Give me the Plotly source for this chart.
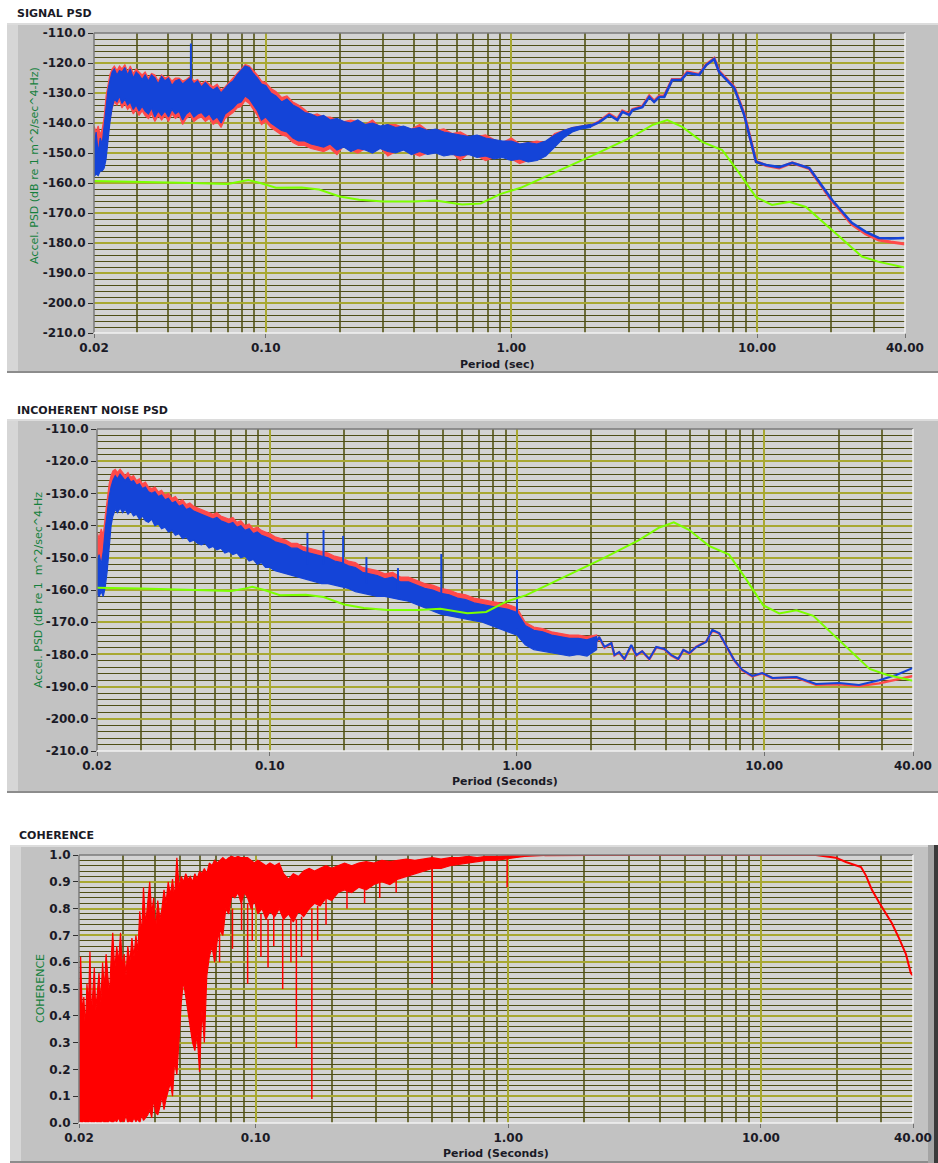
import math
import plotly.graph_objects as go

W, H = 938, 1163

# ======================= DATA =======================
# common period grid (s) for the noisy short-period part of both PSD panels
band_p = [0.0200, 0.0204, 0.0208, 0.0212, 0.0216, 0.0220, 0.0224, 0.0228, 0.0232, 0.0237,
          0.0242, 0.0248, 0.0254, 0.0260, 0.0267, 0.0274, 0.0281, 0.0289, 0.0297, 0.0305,
          0.0314, 0.0323, 0.0333, 0.0343, 0.0354, 0.0365, 0.0377, 0.0389, 0.0402, 0.0415,
          0.0429, 0.0444, 0.0459, 0.0475, 0.0492, 0.0510, 0.0528, 0.0548, 0.0568, 0.0589,
          0.0611, 0.0634, 0.0658, 0.0683, 0.0709, 0.0736, 0.0764, 0.0794, 0.0825, 0.0857,
          0.0890, 0.0925, 0.0961, 0.1000, 0.1050, 0.1100, 0.1160, 0.1220, 0.1290, 0.1360,
          0.1440, 0.1530, 0.1620, 0.1720, 0.1830, 0.1950, 0.2080, 0.2220, 0.2370, 0.2540,
          0.2720, 0.2920, 0.3140, 0.3380, 0.3640, 0.3920, 0.4230, 0.4560, 0.4920, 0.5310,
          0.5740, 0.6200, 0.6700, 0.7250, 0.7850, 0.8500, 0.9200, 1.0000, 1.0800, 1.1700,
          1.2700, 1.3800, 1.5000, 1.6300, 1.7700, 1.9200, 2.1000]

# ---- Panel 1: SIGNAL PSD (dB re 1 m^2/sec^4-Hz) ----
sig_blue_hi = [-148, -143, -150, -145, -147, -140, -134, -129, -126, -123,
               -122, -124, -122.5, -123, -121.5, -124, -122, -125, -123, -124,
               -125.5, -124, -126, -124, -125, -127, -124.5, -126, -125, -127.5,
               -126, -125.5, -127, -126, -125, -127, -126, -128, -126.5, -128,
               -129, -128, -130, -128.5, -127, -126, -124, -122.5, -121, -121.5,
               -123.5, -125, -127, -127.5, -130, -131, -133, -132, -134, -135,
               -136.5, -137, -138, -137.5, -139, -138.5, -139.5, -140, -139, -140.5,
               -140, -141, -140.5, -141.5, -141, -142, -141.5, -142.5, -142, -143,
               -143.5, -144, -144.5, -144, -145, -145.5, -146, -146, -147, -146.5,
               -147, -146, -144, -142.5, -141.5, -141, -140.5]
sig_blue_lo = [-158, -157, -157.5, -156, -156, -155, -152, -146, -140, -135,
               -132, -133, -131, -133.5, -132, -134, -133, -135.5, -134, -136,
               -134.5, -136, -137, -135, -138, -136, -137.5, -136, -138, -135.5,
               -137, -136, -139, -137, -136, -138, -137, -136.5, -138, -137,
               -139, -138, -140, -137, -136, -135, -133.5, -133, -131, -132,
               -134, -136, -139, -138, -140, -141, -142.5, -143, -145, -146,
               -146, -147, -147.5, -148, -147, -149, -148, -149.5, -148.5, -149,
               -150, -148.5, -149.5, -150, -149, -150.5, -149.5, -150.5, -150, -151,
               -150.5, -151, -150.5, -151.5, -151, -152, -151.5, -152.5, -152, -153,
               -152.5, -151, -148, -145, -143, -142, -141.5]
sig_red_hi = [-141, -143, -141, -144, -142, -138, -131, -127, -124, -122,
              -121, -122.5, -121, -122, -120.5, -123, -121, -123.5, -122, -123,
              -124, -123, -125, -123.5, -124, -126, -124, -125, -124.5, -126,
              -125, -125, -126, -125.5, -124.5, -126, -125.5, -127, -126, -127,
              -128, -127, -129, -128, -126.5, -125, -123.5, -122, -120.5, -121,
              -122.5, -124, -126, -126.5, -128.5, -129.5, -131.5, -131, -133, -134,
              -135.5, -137.5, -137, -138, -138, -139, -139.5, -139, -139.5, -140.5,
              -139, -141.5, -140.5, -140.5, -141.5, -142, -140.5, -142.5, -142.5, -142,
              -143.5, -143, -144.5, -144.5, -144, -145.5, -146.5, -145, -147, -146.5,
              -146, -146.5, -143.5, -142.5, -141.5, -141, -140.5]
sig_red_lo = [-150, -151, -149, -150, -152, -153, -150, -145, -139, -135,
              -133, -134, -132.5, -135, -133.5, -135.5, -134.5, -137, -135.5, -137.5,
              -136, -137.5, -138.5, -137, -139.5, -137.5, -139, -137.5, -139.5, -137,
              -138.5, -137.5, -140.5, -138.5, -137.5, -139.5, -138.5, -138, -139.5, -138.5,
              -140.5, -139.5, -141.5, -138.5, -137.5, -136.5, -135, -134.5, -132.5, -133.5,
              -135.5, -137.5, -140.5, -139.5, -141.5, -142.5, -144, -144.5, -146.5, -147.5,
              -147.5, -148.5, -149, -149.5, -148.5, -150.5, -147.5, -149, -150, -148.5,
              -149.5, -148, -151, -149.5, -148.5, -150, -151, -150, -149.5, -150.5,
              -150, -152.5, -150, -151, -152.5, -151.5, -151, -152, -153.5, -152.5,
              -152, -150.5, -147.5, -144.5, -142.5, -141.5, -141]
sig_tail_p = [2.1, 2.28, 2.5, 2.7, 2.83, 3.02, 3.11, 3.41, 3.64, 3.81, 4.0, 4.19,
              4.51, 4.91, 5.2, 5.81, 6.21, 6.69, 7.01, 7.55, 8.07, 8.86, 9.91, 10.9, 12.3,
              13.9, 16.3, 20.2, 24.3, 27.7, 31.3, 35.0, 40.0]
sig_blue_tail = [-141, -139.7, -137.3, -139, -136.3, -137.3, -135.7, -134.7,
                 -131.3, -133, -131.3, -131.3, -125.7, -125.7, -123.3, -124, -120.7, -118.7,
                 -123, -125.7, -128.3, -137.3, -153, -154, -154.7, -153.3, -155, -165.7,
                 -173.3, -176.3, -178.3, -178.5, -178.3]
sig_red_tail = [-141, -139.5, -137, -138.7, -136, -137, -135.5, -134.5,
                -131, -132.7, -131, -131, -125.5, -125.5, -123, -123.8, -120.5, -118.5,
                -122.8, -125.5, -128, -137, -152.8, -154.2, -155, -153.3, -155.2, -166,
                -173.8, -177, -179, -179.7, -180.3]
sig_spike_p = [0.0496]
sig_spike_top = [-113.5]
sig_spike_base = [-128.0]

# ---- Low-noise model (green), shared by both PSD panels ----
nlnm_p = [0.02, 0.03, 0.05, 0.07, 0.08, 0.085, 0.095, 0.11, 0.14, 0.165, 0.2, 0.24, 0.3, 0.4,
          0.49, 0.63, 0.75, 0.9, 1.09, 1.39, 1.79, 2.2, 3.1, 3.74, 4.31, 4.96, 5.98, 7.21,
          8.46, 9.9, 11.5, 13.5, 15.8, 20.0, 26.7, 31.3, 40.0]
nlnm_db = [-159.3, -159.5, -160, -160.3, -159.5, -159.0, -160, -161.6, -161.5, -162.2,
           -164.5, -165.6, -166.2, -166.2, -165.8, -167.2, -166.8, -163.7, -161.6, -157.8,
           -153.8, -150.4, -144.6, -140.7, -139, -141.3, -146.3, -149, -156.7, -164.7,
           -167.3, -166.3, -168, -175.5, -184.5, -186.3, -188.2]

# ---- Panel 2: INCOHERENT NOISE PSD ----
noi_blue_hi = [-151, -149, -152, -148, -141, -135, -131, -128, -126, -124.5,
               -125.5, -124, -125, -126, -125, -126.5, -126, -127.5, -127, -128.5,
               -128, -129.5, -130, -129.5, -131, -130.5, -132, -131.5, -133, -132.5,
               -134, -133.5, -135, -134.5, -135.5, -136, -136.5, -137, -137.5, -138,
               -137.5, -138.5, -139, -139.5, -139, -140.5, -140, -141.5, -141, -142.5,
               -142, -143, -143.5, -144, -145, -145.5, -146, -147, -147, -148,
               -148.5, -149, -149.5, -150, -151, -151.5, -152.5, -153, -154.5, -155,
               -155.5, -156.5, -156, -157.5, -157.5, -158.5, -159.5, -160, -161, -161.5,
               -162.5, -163, -164, -164.5, -165, -165.5, -166, -167, -171, -172.5,
               -173, -174, -174.5, -175, -175, -175.5, -174.5]
noi_blue_lo = [-161, -162, -160.5, -162, -159, -154, -148, -140, -137, -135,
               -136, -134.5, -136, -135, -136.5, -135.5, -137, -136.5, -138, -137,
               -138.5, -139, -138, -140, -139.5, -141, -140.5, -142, -141.5, -143,
               -142.5, -144, -143.5, -145, -144.5, -145.5, -146, -145.5, -147, -146.5,
               -147.5, -147, -148.5, -148, -149, -148.5, -150, -149.5, -151, -150.5,
               -152, -151.5, -153, -153, -154, -154.5, -155, -155.5, -156, -156.5,
               -157, -157.5, -158, -158, -158.5, -159, -159.5, -160.5, -161, -161.5,
               -162, -162, -162.5, -163, -163.5, -164.5, -165.5, -166.5, -167.5, -168,
               -168.5, -169, -169.5, -170, -171, -172, -173, -174, -177, -178.5,
               -179, -179.5, -180, -180.5, -180, -180.5, -178.5]
noi_red_hi = [-142, -144, -141, -143, -137, -131, -127, -124.5, -123, -122.5,
              -123.5, -122.5, -123.5, -124.5, -123.5, -125, -124.5, -126, -125.5, -127,
              -126.5, -128, -128.5, -128, -129.5, -129, -130.5, -130, -131.5, -131,
              -132.5, -132, -133.5, -133, -134, -134.5, -135, -135.5, -136, -136.5,
              -136, -137, -137.5, -138, -137.5, -139, -138.5, -140, -139.5, -141,
              -140.5, -141.5, -142, -142.5, -143.5, -144, -144.5, -145.5, -145.5, -146.5,
              -147, -147.5, -148, -148.5, -149.5, -150, -151, -151.5, -153, -153.5,
              -154, -155, -154.5, -156, -156, -157, -158, -158.5, -159.5, -160,
              -161, -161.5, -162.5, -163, -163.5, -164, -164.5, -165.5, -170, -171.5,
              -172, -173, -173.5, -174, -174, -174.5, -174]
noi_red_lo = [-151, -152, -150, -152, -153, -150, -145, -138, -135.5, -133.5,
              -134.5, -133, -134.5, -133.5, -135, -134, -135.5, -135, -136.5, -135.5,
              -137, -137.5, -136.5, -138.5, -138, -139.5, -139, -140.5, -140, -141.5,
              -141, -142.5, -142, -143.5, -143, -144, -144.5, -144, -145.5, -145,
              -146, -145.5, -147, -146.5, -147.5, -147, -148.5, -148, -149.5, -149,
              -150.5, -150, -151.5, -151.5, -152.5, -153, -153.5, -154, -154.5, -155,
              -155.5, -156, -156.5, -156.5, -157, -157.5, -158, -159, -159.5, -160,
              -160.5, -160.5, -161, -161.5, -162, -163, -164, -165, -166, -166.5,
              -167, -167.5, -168, -168.5, -169.5, -170.5, -171.5, -172.5, -176, -177.5,
              -178, -178.5, -179, -179.5, -179, -179.5, -178]
noi_tail_p = [2.1, 2.15, 2.26, 2.41, 2.48, 2.59, 2.72, 2.90, 3.04, 3.21, 3.43, 3.66, 3.95, 4.21,
              4.49, 4.71, 4.98, 5.31, 5.83, 6.17, 6.58, 7.08, 7.56, 8.15, 8.95, 9.82, 10.8,
              13.5, 16.2, 20.1, 24.2, 29.2, 34.2, 40.0]
noi_blue_tail = [-176, -174.6, -177.7, -176.5, -180.2, -179.3, -181.4, -177.1, -180.2, -179,
                 -181.4, -177.7, -178.3, -180.2, -181.4, -178.6, -179.6, -177.7, -176.1, -172.4,
                 -173.4, -177.7, -181.7, -184.8, -186.7, -185.8, -187.3, -187, -189.2, -188.9,
                 -189.5, -188, -186.4, -184.2]
noi_red_tail = [-176, -174.8, -177.9, -176.6, -180.3, -179.4, -181.5, -177.3, -180.3, -179.1,
                -181.5, -177.8, -178.4, -180.3, -181.5, -178.7, -179.7, -177.6, -176.0, -172.6,
                -173.5, -177.8, -181.8, -184.9, -186.8, -185.9, -187.4, -187.2, -189.4, -189.3,
                -189.8, -189, -187.8, -186.7]
noi_spike_p = [0.142, 0.165, 0.198, 0.246, 0.33, 0.494, 1.0]
noi_spike_top = [-142.3, -141.4, -143.2, -149.8, -153.2, -148.8, -153.8]
noi_spike_base = [-152, -152, -153, -158, -161, -163, -172]

# ---- Panel 3: COHERENCE ----
coh_band_p = [0.0200, 0.0203, 0.0206, 0.0209, 0.0212, 0.0215, 0.0218, 0.0221, 0.0224, 0.0227,
              0.0230, 0.0233, 0.0236, 0.0240, 0.0244, 0.0248, 0.0252, 0.0256, 0.0260, 0.0264,
              0.0268, 0.0272, 0.0277, 0.0282, 0.0287, 0.0292, 0.0297, 0.0302, 0.0307, 0.0312,
              0.0318, 0.0324, 0.0330, 0.0336, 0.0342, 0.0348, 0.0354, 0.0360, 0.0367, 0.0374,
              0.0381, 0.0388, 0.0395, 0.0402, 0.0410, 0.0418, 0.0426, 0.0434, 0.0442, 0.0451,
              0.0460, 0.0469, 0.0478, 0.0488, 0.0498, 0.0508, 0.0518, 0.0529, 0.0540, 0.0551,
              0.0563, 0.0575, 0.0587, 0.0600, 0.0613, 0.0627, 0.0641, 0.0656, 0.0672, 0.0688,
              0.0705, 0.0723, 0.0742, 0.0762, 0.0783, 0.0805, 0.0828, 0.0852, 0.0877, 0.0903,
              0.0930, 0.0960, 0.0990, 0.1020, 0.1060, 0.1100, 0.1140, 0.1190, 0.1240, 0.1290,
              0.1350, 0.1410, 0.1480, 0.1550, 0.1630, 0.1710, 0.1800, 0.1900, 0.2000, 0.2120,
              0.2250, 0.2400, 0.2560, 0.2740, 0.2940, 0.3160, 0.3400, 0.3660, 0.3950, 0.4270,
              0.4620, 0.5000, 0.5420, 0.5880, 0.6380, 0.6930, 0.7530, 0.8180, 0.8900, 0.9700,
              1.0600, 1.1600, 1.2700, 1.3900]
coh_hi = [0.38, 0.62, 0.41, 0.47, 0.35, 0.52, 0.44, 0.64, 0.40, 0.50, 0.58, 0.42, 0.47,
          0.56, 0.45, 0.60, 0.50, 0.63, 0.55, 0.48, 0.61,
          0.71, 0.57, 0.66, 0.60, 0.71, 0.58, 0.63, 0.55, 0.66,
          0.60, 0.69, 0.62, 0.70, 0.64, 0.79, 0.70, 0.88, 0.74, 0.82,
          0.90, 0.78, 0.84, 0.72, 0.83, 0.76, 0.80, 0.87, 0.82, 0.90,
          0.85, 0.91, 0.84, 0.99, 0.88, 0.92, 0.90, 0.93, 0.91, 0.92,
          0.90, 0.93, 0.91, 0.94, 0.93, 0.95, 0.93, 0.97, 0.96, 0.98,
          0.97, 0.98, 0.99, 0.98, 0.99, 0.995, 0.99, 0.995, 0.99, 0.99,
          0.99, 0.98, 0.97, 0.98, 0.97, 0.96, 0.97, 0.96, 0.97, 0.93,
          0.91, 0.93, 0.92, 0.94, 0.95, 0.94, 0.95, 0.96, 0.95, 0.96,
          0.97, 0.96, 0.97, 0.975, 0.97, 0.98, 0.975, 0.98, 0.985, 0.98,
          0.985, 0.99, 0.985, 0.99, 0.99, 0.995, 0.99, 0.995, 0.995, 0.997,
          0.998, 1.0, 1.0, 1.0]
coh_lo = [0.0, 0.005, 0.0, 0.01, 0.0, 0.005, 0.0, 0.01, 0.0, 0.005, 0.0, 0.01, 0.0,
          0.005, 0.0, 0.01, 0.0, 0.005, 0.0, 0.01, 0.005,
          0.0, 0.01, 0.005, 0.02, 0.0, 0.01, 0.005, 0.03, 0.0,
          0.01, 0.0, 0.02, 0.005, 0.015, 0.0, 0.03, 0.01, 0.02, 0.03,
          0.05, 0.02, 0.09, 0.04, 0.03, 0.06, 0.10, 0.05, 0.09, 0.12,
          0.15, 0.10, 0.23, 0.18, 0.31, 0.45, 0.53, 0.48, 0.42, 0.36,
          0.30, 0.27, 0.33, 0.19, 0.42, 0.30, 0.55, 0.62, 0.66, 0.60,
          0.68, 0.72, 0.70, 0.80, 0.78, 0.85, 0.84, 0.86, 0.82, 0.86,
          0.84, 0.80, 0.83, 0.78, 0.80, 0.76, 0.79, 0.77, 0.80, 0.76,
          0.78, 0.75, 0.79, 0.77, 0.80, 0.82, 0.81, 0.84, 0.83, 0.86,
          0.87, 0.86, 0.88, 0.87, 0.89, 0.90, 0.89, 0.91, 0.92, 0.93,
          0.94, 0.95, 0.95, 0.96, 0.965, 0.97, 0.975, 0.98, 0.98, 0.985,
          0.99, 0.995, 0.997, 0.998]
coh_tail_p = [1.39, 2.1, 16.5, 19.8, 21.7, 24.9, 26.0, 27.5, 29.3, 31.3, 33.0, 35.2, 37.5, 39.2, 40.0]
coh_tail = [0.999, 1.0, 1.0, 0.99, 0.974, 0.955, 0.925, 0.87, 0.825, 0.78, 0.745, 0.69, 0.63, 0.56, 0.55]
coh_spike_p = [0.072, 0.081, 0.088, 0.093, 0.097, 0.105, 0.112, 0.118, 0.128, 0.138, 0.145,
               0.152, 0.167, 0.176, 0.19, 0.23, 0.27, 0.31, 0.36, 0.50, 0.99]
coh_spike_top = [0.72, 0.80, 0.84, 0.82, 0.82, 0.78, 0.76, 0.78, 0.76, 0.76, 0.76,
                 0.77, 0.80, 0.81, 0.84, 0.87, 0.88, 0.90, 0.91, 0.95, 0.985]
coh_spike_bottom = [0.60, 0.65, 0.72, 0.52, 0.68, 0.62, 0.58, 0.66, 0.50, 0.60, 0.28,
                    0.62, 0.09, 0.68, 0.74, 0.80, 0.82, 0.84, 0.86, 0.52, 0.88]

# ======================= STYLE =======================
FRAME = "#c2c2c2"
PLOTBG = "#d3d3d3"
GRID_MAJ = "#a8a832"
GRID_MIN_H = "#4e4e16"
GRID_MIN_V = "#6c6c3a"
BLUE = "#1444d8"
RED = "#ff4a4a"
GREEN = "#7cff00"
CRED = "#ff0000"
LABEL_GREEN = "#14803c"
TXT = "#1a1a26"
FONT = "DejaVu Sans"


def fx(x):
    return x / W


def fy(y):
    return 1 - y / H


panels = [
    dict(frame=(7, 23, 938, 373), plot=(94, 33, 905, 333)),
    dict(frame=(7, 419, 938, 793), plot=(97, 429, 913, 751)),
    dict(frame=(10, 845, 938, 1163), plot=(79, 855, 913, 1123)),
]

fig = go.Figure()


def band(p, hi, lo, color, xa, ya, width=1.2):
    fig.add_trace(go.Scatter(
        x=list(p) + list(p)[::-1], y=list(hi) + list(lo)[::-1],
        mode="lines", fill="toself", fillcolor=color,
        line=dict(color=color, width=width), xaxis=xa, yaxis=ya,
        hoverinfo="skip", showlegend=False))


def line(p, v, color, xa, ya, width=2.5):
    fig.add_trace(go.Scatter(x=p, y=v, mode="lines", line=dict(color=color, width=width),
                             xaxis=xa, yaxis=ya, showlegend=False))


def spikes(p, a, b, color, xa, ya, width=2):
    xs, ys = [], []
    for pi, ai, bi in zip(p, a, b):
        xs += [pi, pi, None]
        ys += [ai, bi, None]
    fig.add_trace(go.Scatter(x=xs, y=ys, mode="lines", line=dict(color=color, width=width),
                             xaxis=xa, yaxis=ya, showlegend=False, connectgaps=False))


# Panel 1
band(band_p, sig_red_hi, sig_red_lo, RED, "x", "y")
line(sig_tail_p, sig_red_tail, RED, "x", "y", 3)
band(band_p, sig_blue_hi, sig_blue_lo, BLUE, "x", "y")
line(sig_tail_p, sig_blue_tail, BLUE, "x", "y", 2.5)
spikes(sig_spike_p, sig_spike_base, sig_spike_top, BLUE, "x", "y")
line(nlnm_p, nlnm_db, GREEN, "x", "y", 2)

# Panel 2
band(band_p, noi_red_hi, noi_red_lo, RED, "x2", "y2")
line(noi_tail_p, noi_red_tail, RED, "x2", "y2", 2.5)
band(band_p, noi_blue_hi, noi_blue_lo, BLUE, "x2", "y2")
line(noi_tail_p, noi_blue_tail, BLUE, "x2", "y2", 2)
spikes(noi_spike_p, noi_spike_base, noi_spike_top, BLUE, "x2", "y2")
line(nlnm_p, nlnm_db, GREEN, "x2", "y2", 2)

# Panel 3
band(coh_band_p, coh_hi, coh_lo, CRED, "x3", "y3", 1.2)
line(coh_tail_p, coh_tail, CRED, "x3", "y3", 2)
spikes(coh_spike_p, coh_spike_top, coh_spike_bottom, CRED, "x3", "y3", 1.5)

# ======================= AXES =======================
x_major = [0.02, 0.1, 1, 10, 40]
x_major_txt = ["0.02", "0.10", "1.00", "10.00", "40.00"]
x_minor = [m * 10 ** e for e in (-2, -1, 0, 1) for m in range(2, 10)
           if 0.021 < m * 10 ** e < 39]

tickfont = dict(family=FONT, size=12, color=TXT, weight="bold")


def xaxis_cfg(i):
    x0, y0, x1, y1 = panels[i]["plot"]
    a = "y" if i == 0 else f"y{i+1}"
    return dict(domain=[fx(x0), fx(x1)], anchor=a, type="log", automargin=False,
                range=[math.log10(0.02), math.log10(40)],
                tickmode="array", tickvals=x_major, ticktext=x_major_txt,
                ticks="outside", ticklen=4, tickcolor="#707070", tickwidth=1,
                tickfont=tickfont, showgrid=True, gridcolor=GRID_MAJ, gridwidth=1.5,
                minor=dict(tickmode="array", tickvals=x_minor, showgrid=True,
                           gridcolor=GRID_MIN_V, gridwidth=1.5, ticks=""),
                showline=False, zeroline=False, fixedrange=True)


def yaxis_cfg(i, vals, txt, rng, mdt):
    x0, y0, x1, y1 = panels[i]["plot"]
    a = "x" if i == 0 else f"x{i+1}"
    return dict(domain=[fy(y1), fy(y0)], anchor=a, range=rng, automargin=False,
                tickmode="array", tickvals=vals, ticktext=txt,
                ticks="outside", ticklen=5, tickcolor="#303030", tickwidth=1,
                tickfont=tickfont, showgrid=True, gridcolor=GRID_MAJ, gridwidth=1.5,
                minor=dict(dtick=mdt, tick0=0, showgrid=True, gridcolor=GRID_MIN_H,
                           gridwidth=1.3, ticks=""),
                showline=False, zeroline=False, fixedrange=True)


db_vals = list(range(-110, -211, -10))
db_txt = [f"{v:.1f}" for v in db_vals]
coh_vals = [i / 10 for i in range(0, 11)]
coh_txt = [f"{v:.1f}" for v in coh_vals]

fig.update_layout(
    template="none",
    width=W, height=H, margin=dict(l=0, r=0, t=0, b=0, pad=0), autosize=False,
    paper_bgcolor="white", plot_bgcolor=PLOTBG, showlegend=False,
    xaxis=xaxis_cfg(0), xaxis2=xaxis_cfg(1), xaxis3=xaxis_cfg(2),
    yaxis=yaxis_cfg(0, db_vals, db_txt, [-210, -110], 2),
    yaxis2=yaxis_cfg(1, db_vals, db_txt, [-210, -110], 2),
    yaxis3=yaxis_cfg(2, coh_vals, coh_txt, [0, 1], 0.02),
)

# ======================= FRAMES =======================
shapes = []


def rect(x0, y0, x1, y1, color, layer="below"):
    shapes.append(dict(type="rect", xref="paper", yref="paper", x0=fx(x0), x1=fx(x1),
                       y0=fy(y1), y1=fy(y0), fillcolor=color, line=dict(width=0), layer=layer))


def hline(x0, x1, y, color, w=1, layer="above"):
    shapes.append(dict(type="line", xref="paper", yref="paper", x0=fx(x0), x1=fx(x1),
                       y0=fy(y), y1=fy(y), line=dict(color=color, width=w), layer=layer))


def vline(x, y0, y1, color, w=1, layer="above"):
    shapes.append(dict(type="line", xref="paper", yref="paper", x0=fx(x), x1=fx(x),
                       y0=fy(y0), y1=fy(y1), line=dict(color=color, width=w), layer=layer))


for i, pnl in enumerate(panels):
    fx0, fy0, fx1, fy1 = pnl["frame"]
    px0, py0, px1, py1 = pnl["plot"]
    rect(fx0, fy0, fx1, fy1, FRAME)
    rect(fx0, fy0, fx0 + 11, fy1, "#d6d6d6")
    rect(fx0, fy0, fx1, fy0 + 2, "#dcdcdc")
    hline(fx0, fx1, fy1 - 1, "#8c8c8c", 2, "below")
    rect(px0, py0, px1, py1, PLOTBG)
    hline(px0, px1, py0, "#7a7a7a", 1.5)
    vline(px0, py0, py1, "#7a7a7a", 1.5)
    hline(px0, px1, py1, "#f2f2f2", 1.5)
    vline(px1, py0, py1, "#f2f2f2", 1.5)

rect(928, 845, 934, 1163, "#a4a4a4")
rect(934, 845, 938, 1163, "#3a3a3a")

fig.update_layout(shapes=shapes)

# ======================= TEXT =======================
ann = []


def text(x, y, s, size=11, color=TXT, bold=True, angle=0, xanchor="left"):
    ann.append(dict(x=fx(x), y=fy(y), xref="paper", yref="paper", text=s, showarrow=False,
                    xanchor=xanchor, yanchor="middle", textangle=angle,
                    font=dict(family=FONT, size=size, color=color,
                              weight="bold" if bold else "normal")))


text(15, 13, "SIGNAL PSD")
text(15, 410, "INCOHERENT NOISE PSD")
text(17, 835, "COHERENCE")
text(498, 364, "Period (sec)", size=11, xanchor="center")
text(505, 781, "Period (Seconds)", size=11, xanchor="center")
text(496, 1153, "Period (Seconds)", size=11, xanchor="center")
text(35, 166, "Accel. PSD (dB re 1 m^2/sec^4-Hz)", size=11, color=LABEL_GREEN, bold=False,
     angle=-90, xanchor="center")
text(38, 590, "Accel. PSD (dB re 1  m^2/sec^4-Hz", size=11, color=LABEL_GREEN, bold=False,
     angle=-90, xanchor="center")
text(40, 989, "COHERENCE", size=11, color=LABEL_GREEN, bold=False, angle=-90,
     xanchor="center")

fig.update_layout(annotations=ann)

fig.write_html("out.html")
